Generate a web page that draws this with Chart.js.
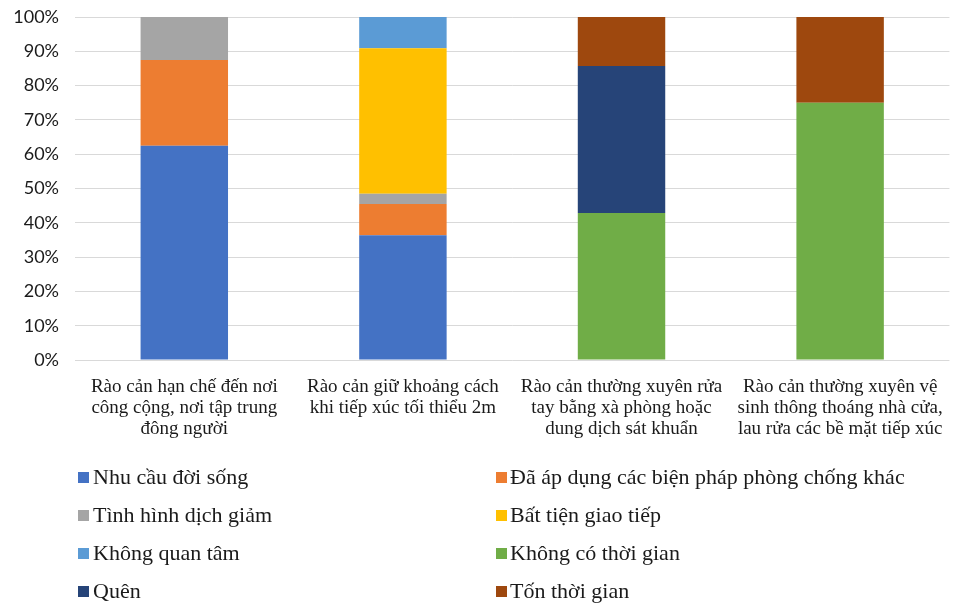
<!DOCTYPE html>
<html>
<head>
<meta charset="utf-8">
<script src="https://cdn.jsdelivr.net/npm/chart.js@4/dist/chart.umd.min.js"></script>
<style>
  html, body { margin: 0; padding: 0; background: #ffffff; }
  #wrap { width: 961px; height: 606px; position: relative; }
</style>
</head>
<body>
<div id="wrap"><canvas id="c" width="961" height="606"></canvas></div>
<script>
// Categories (multi-line axis labels)
const categories = [
  ["Rào cản hạn chế đến nơi", "công cộng, nơi tập trung", "đông người"],
  ["Rào cản giữ khoảng cách", "khi tiếp xúc tối thiểu 2m"],
  ["Rào cản thường xuyên rửa", "tay bằng xà phòng hoặc", "dung dịch sát khuẩn"],
  ["Rào cản thường xuyên vệ", "sinh thông thoáng nhà cửa,", "lau rửa các bề mặt tiếp xúc"]
];

// Series shares (%) per category
const nhuCauDoiSong    = [62.5, 36.36, 0, 0];
const daApDungBienPhap = [25, 9.09, 0, 0];
const tinhHinhDichGiam = [12.5, 3.03, 0, 0];
const batTienGiaoTiep  = [0, 42.42, 0, 0];
const khongQuanTam     = [0, 9.09, 0, 0];
const khongCoThoiGian  = [0, 0, 42.86, 75];
const quen             = [0, 0, 42.86, 0];
const tonThoiGian      = [0, 0, 14.28, 25];

const seriesNames = [
  "Nhu cầu đời sống",
  "Đã áp dụng các biện pháp phòng chống khác",
  "Tình hình dịch giảm",
  "Bất tiện giao tiếp",
  "Không quan tâm",
  "Không có thời gian",
  "Quên",
  "Tốn thời gian"
];
const seriesValues = [nhuCauDoiSong, daApDungBienPhap, tinhHinhDichGiam, batTienGiaoTiep,
                      khongQuanTam, khongCoThoiGian, quen, tonThoiGian];
const seriesColors = ["#4472C4", "#ED7D31", "#A5A5A5", "#FFC000",
                      "#5B9BD5", "#70AD47", "#264478", "#9E480E"];

// Y ticks
const yTicks = [0, 10, 20, 30, 40, 50, 60, 70, 80, 90, 100];

const serif = "'Liberation Serif', 'Times New Roman', serif";

// Two-column legend drawn under the axis labels
const twoColumnLegend = {
  id: 'twoColumnLegend',
  afterDraw(chart) {
    const ctx = chart.ctx;
    const cols = [{ box: 78, text: 93 }, { box: 496, text: 510 }];
    const rows = [477, 515, 553, 591];
    ctx.save();
    ctx.font = "22px " + serif;
    ctx.textBaseline = 'middle';
    ctx.textAlign = 'left';
    chart.data.datasets.forEach((ds, i) => {
      const col = cols[i % 2];
      const y = rows[Math.floor(i / 2)];
      ctx.fillStyle = ds.backgroundColor;
      ctx.fillRect(col.box, y - 5, 11, 11);
      ctx.fillStyle = '#1a1a1a';
      ctx.fillText(ds.label, col.text, y + 1);
    });
    ctx.restore();
  }
};

new Chart(document.getElementById('c'), {
  type: 'bar',
  data: {
    labels: categories,
    datasets: seriesNames.map((name, i) => ({
      label: name,
      data: seriesValues[i],
      backgroundColor: seriesColors[i],
      borderWidth: 0,
      categoryPercentage: 1,
      barPercentage: 0.4
    }))
  },
  options: {
    responsive: false,
    animation: false,
    devicePixelRatio: 1,
    layout: { padding: { top: 17, right: 11, bottom: 0, left: 0 } },
    plugins: {
      legend: { display: false },
      tooltip: { enabled: false }
    },
    scales: {
      x: {
        stacked: true,
        grid: { display: false, drawTicks: false },
        border: { display: false },
        ticks: {
          color: '#1a1a1a',
          font: { family: serif, size: 19, lineHeight: 1.1 },
          padding: 17,
          maxRotation: 0,
          autoSkip: false
        },
        afterFit: s => { s.height = 246; s.paddingTop = 0; s.paddingBottom = 0; }
      },
      y: {
        stacked: true,
        min: 0,
        max: 100,
        afterBuildTicks: s => { s.ticks = yTicks.map(v => ({ value: v })); },
        grid: { color: '#d9d9d9', lineWidth: 1, drawTicks: false },
        border: { display: false },
        ticks: {
          color: '#1a1a1a',
          font: { family: "Lato, 'Liberation Sans', sans-serif", size: 18 },
          padding: 16,
          callback: v => v + '%'
        },
        afterFit: s => { s.width = 75; s.paddingTop = 0; s.paddingBottom = 0; }
      }
    }
  },
  plugins: [twoColumnLegend]
});
</script>
</body>
</html>
